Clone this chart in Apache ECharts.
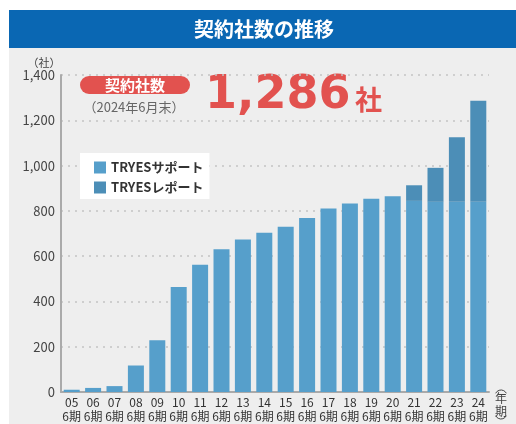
<!DOCTYPE html>
<html>
<head>
<meta charset="utf-8">
<script src="https://cdn.jsdelivr.net/npm/echarts@6/dist/echarts.min.js"></script>
<style>
  html, body { margin: 0; padding: 0; background: #fff; }
  #chart { width: 516px; height: 424px; }
</style>
</head>
<body>
<div id="chart"></div>
<script>
  // 年度（各年6期）
  const years = ['05', '06', '07', '08', '09', '10', '11', '12', '13', '14',
                 '15', '16', '17', '18', '19', '20', '21', '22', '23', '24']
  const periodLabel = '6期'
  // TRYESサポート
  const supportValues = [10, 18, 26, 117, 228, 464, 562, 630, 674, 703,
                         730, 768, 810, 832, 853, 865, 844, 840, 840, 840]
  // TRYESレポート
  const reportValues = [null, null, null, null, null, null, null, null, null, null,
                        null, null, null, null, null, null, 69, 150, 285, 446]
  const yTicks = { min: 0, max: 1400, interval: 200 }

  const font = '"Noto Sans CJK JP", "Noto Sans", sans-serif'
  const chart = echarts.init(document.getElementById('chart'))

  const option = {
    backgroundColor: '#ffffff',
    textStyle: { fontFamily: font },
    animation: false,
    graphic: [
      // 背景パネル
      { type: 'rect', z: -10, silent: true, shape: { x: 9, y: 48, width: 507, height: 376 }, style: { fill: '#eeeeee' } },
      // タイトルバー
      { type: 'rect', z: -10, silent: true, shape: { x: 9, y: 10, width: 507, height: 38 }, style: { fill: '#0a67b3' } },
      { type: 'text', x: 264, y: 29, style: { text: '契約社数の推移', fill: '#fff', font: 'bold 20px ' + font, align: 'center', verticalAlign: 'middle' } },
      // 契約社数 ラベル
      { type: 'rect', shape: { x: 80, y: 76, width: 110, height: 18, r: 9 }, style: { fill: '#e2524f' } },
      { type: 'text', x: 135, y: 85, style: { text: '契約社数', fill: '#fff', font: 'bold 15px ' + font, align: 'center', verticalAlign: 'middle' } },
      { type: 'text', x: 134, y: 107, style: { text: '（2024年6月末）', fill: '#666', font: '13px ' + font, align: 'center', verticalAlign: 'middle' } },
      { type: 'text', x: 205, y: 96, style: { text: '1,286', fill: '#e2524f', font: 'bold 46px "DejaVu Sans"', align: 'left', verticalAlign: 'middle' } },
      { type: 'text', x: 355, y: 100, style: { text: '社', fill: '#e2524f', font: 'bold 27px ' + font, align: 'left', verticalAlign: 'middle' } },
      // 単位
      { type: 'text', x: 44, y: 63, style: { text: '（社）', fill: '#444', font: '11px ' + font, align: 'center', verticalAlign: 'middle' } },
      // 年期
      { type: 'text', x: 501, y: 405, style: { text: '年\n期', fill: '#444', font: '12px ' + font, lineHeight: 13, align: 'center', verticalAlign: 'middle' } },
      { type: 'arc', silent: true, shape: { cx: 501, cy: 396, r: 6, startAngle: Math.PI * 1.15, endAngle: Math.PI * 1.85 }, style: { stroke: '#444', lineWidth: 1, fill: null } },
      { type: 'arc', silent: true, shape: { cx: 501, cy: 413, r: 6, startAngle: Math.PI * 0.15, endAngle: Math.PI * 0.85 }, style: { stroke: '#444', lineWidth: 1, fill: null } }
    ],
    legend: {
      left: 80,
      top: 153,
      orient: 'vertical',
      backgroundColor: '#ffffff',
      padding: [8, 6, 5, 14],
      itemWidth: 12,
      itemHeight: 12,
      itemGap: 7,
      icon: 'rect',
      itemStyle: { borderWidth: 0 },
      textStyle: { fontSize: 13, fontWeight: 'bold', color: '#333', fontFamily: font },
      data: ['TRYESサポート', 'TRYESレポート']
    },
    grid: { left: 61, right: 27, top: 75, bottom: 32 },
    xAxis: {
      type: 'category',
      data: years,
      axisLine: { lineStyle: { color: '#aaa', width: 2 } },
      axisTick: { show: false },
      axisLabel: {
        interval: 0,
        margin: 3,
        color: '#333',
        fontSize: 12,
        lineHeight: 14,
        formatter: v => v + '\n' + periodLabel
      }
    },
    yAxis: {
      type: 'value',
      min: yTicks.min,
      max: yTicks.max,
      interval: yTicks.interval,
      axisLine: { show: true, lineStyle: { color: '#aaa', width: 2 } },
      axisTick: { show: false },
      axisLabel: {
        margin: 6,
        color: '#444',
        fontSize: 13,
        formatter: v => v.toLocaleString('en-US')
      },
      splitLine: { lineStyle: { color: '#c4c4c4', type: [2, 5], width: 1.5 } }
    },
    series: [
      {
        name: 'TRYESサポート',
        type: 'bar',
        stack: 'total',
        barWidth: 16,
        itemStyle: { color: '#569fcb' },
        data: supportValues
      },
      {
        name: 'TRYESレポート',
        type: 'bar',
        stack: 'total',
        barWidth: 16,
        itemStyle: { color: '#4c8eb7' },
        data: reportValues
      }
    ]
  }

  chart.setOption(option)
</script>
</body>
</html>
